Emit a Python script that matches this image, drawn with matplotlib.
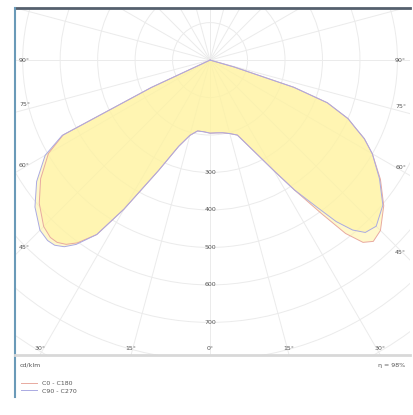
"""
Diagrama polar de intensidade luminosa (cd/klm) de uma luminaria, planos C0-C180 e C90-C270.
"""

import numpy as np
import matplotlib.pyplot as plt
from matplotlib.lines import Line2D
from matplotlib.patches import Circle

angulos = [0, 5, 10, 15, 20, 25, 30, 33, 36, 38, 40, 42, 45, 50, 55, 60, 63, 65, 67, 70, 72, 74, 76, 80, 90]
c0 = [195, 195, 197, 203, 213, 261, 341, 413, 507, 587, 635, 651, 643, 605, 555, 500, 462, 428, 400, 333, 235, 67, 0, 0, 0]
c180 = [195, 192, 192, 208, 245, 325, 459, 555, 603, 624, 635, 637, 628, 595, 552, 498, 440, 173, 0, 0, 0, 0, 0, 0, 0]
c90 = [195, 195, 197, 203, 213, 261, 341, 413, 485, 547, 592, 619, 627, 602, 552, 500, 462, 428, 400, 333, 235, 67, 0, 0, 0]
c270 = [195, 192, 192, 208, 245, 325, 459, 555, 608, 632, 645, 648, 642, 610, 565, 508, 443, 173, 0, 0, 0, 0, 0, 0, 0]

aneis = [100, 200, 300, 400, 500, 600, 700, 800, 900, 1000, 1100]
rotulos_aneis = [300, 400, 500, 600, 700]
rotulos_laterais = [90, 75, 60, 45]
rotulos_base = [-30, -15, 0, 15, 30]
legenda = ["C0 - C180", "C90 - C270"]
unidade = "cd/klm"
eta = "\u03b7 = 98%"

cor_grade = "#ebebeb"
cor_texto = "#555555"


def curva(esq, dir):
    # Converte as metades esquerda/direita do plano C em coordenadas cartesianas
    g = np.radians(angulos)
    esq = np.array(esq, dtype=float)
    dir = np.array(dir, dtype=float)
    x = np.concatenate([(-esq * np.sin(g))[::-1], dir * np.sin(g)])
    y = np.concatenate([(-esq * np.cos(g))[::-1], -dir * np.cos(g)])
    return x, y


fig = plt.figure(figsize=(4.14, 4.15), dpi=100)

# Area do diagrama (em pixels: x 15..410, y 8..355)
ax = fig.add_axes([15 / 414, 60 / 415, 395 / 414, 347 / 415])
xmin, xmax = -520, 533
ymin, ymax = -787, 139
ax.set_xlim(xmin, xmax)
ax.set_ylim(ymin, ymax)
ax.set_aspect("equal")
ax.axis("off")

# Grade polar
for r in aneis:
    ax.add_patch(Circle((0, 0), r, fill=False, ec=cor_grade, lw=0.7, zorder=1))
for a in range(0, 360, 15):
    t = np.radians(a)
    ax.plot([0, 1300 * np.sin(t)], [0, -1300 * np.cos(t)], color=cor_grade, lw=0.7, zorder=1)

# Curvas
x1, y1 = curva(c180, c0)
x2, y2 = curva(c270, c90)
ax.fill(x1, y1, color="#fff3a0", alpha=0.55, lw=0, zorder=2)
ax.fill(x2, y2, color="#fff3a0", alpha=0.55, lw=0, zorder=2)
l1, = ax.plot(x1, y1, color="#e8aaa0", lw=0.7, zorder=3)
l2, = ax.plot(x2, y2, color="#aaaae2", lw=0.7, zorder=3)

# Rotulos dos aneis no eixo vertical
for v in rotulos_aneis:
    ax.text(0, -v, str(v), ha="center", va="center", fontsize=4.5, color=cor_texto, zorder=4)

# Rotulos de angulo nas laterais
for a in rotulos_laterais:
    t = np.radians(a)
    y_esq = 0 if a == 90 else xmin / np.tan(t) + 20
    y_dir = 0 if a == 90 else -xmax / np.tan(t) + 20
    ax.text(xmin + 10, y_esq, "%d\u00b0" % a, ha="left", va="center",
            fontsize=4.5, color=cor_texto, zorder=4)
    ax.text(xmax - 10, y_dir, "%d\u00b0" % a, ha="right", va="center",
            fontsize=4.5, color=cor_texto, zorder=4)

# Rotulos de angulo na base
for a in rotulos_base:
    t = np.radians(a)
    ax.text(-ymin * np.tan(t), ymin + 18, "%d\u00b0" % abs(a), ha="center", va="center",
            fontsize=4.5, color=cor_texto, zorder=4)

# Moldura
fig.add_artist(Line2D([15 / 414, 410 / 414], [1 - 8 / 415, 1 - 8 / 415], color="#55606e", lw=2))
fig.add_artist(Line2D([15 / 414, 15 / 414], [1 - 8 / 415, 1 - 397 / 415], color="#6a9ab8", lw=1.5))
fig.add_artist(Line2D([15 / 414, 410 / 414], [1 - 355 / 415, 1 - 355 / 415], color="#d8d8d8", lw=2))

# Textos inferiores e legenda
fig.text(20 / 414, 1 - 365 / 415, unidade, ha="left", va="center", fontsize=4.5, color=cor_texto)
fig.text(405 / 414, 1 - 365 / 415, eta, ha="right", va="center", fontsize=4.5, color=cor_texto)
fig.legend([l1, l2], legenda, loc="lower left", bbox_to_anchor=(17 / 414, 1 - 398 / 415),
           fontsize=4.5, frameon=False, handlelength=2.5, labelcolor=cor_texto,
           borderpad=0.2, labelspacing=0.3)

plt.savefig("out.png", dpi=100)
